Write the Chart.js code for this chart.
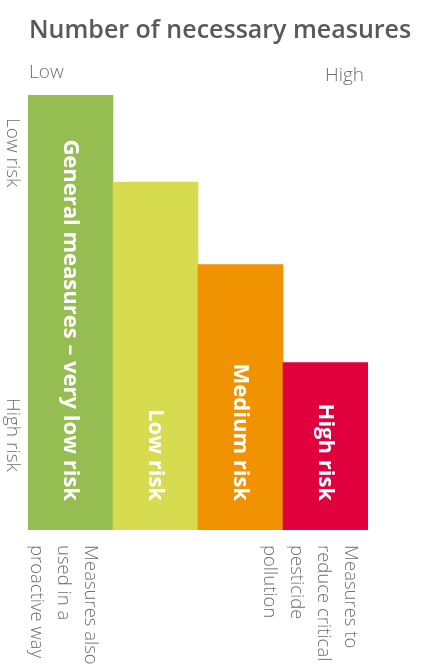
<!DOCTYPE html>
<html>
<head>
<meta charset="utf-8">
<script src="https://cdn.jsdelivr.net/npm/chart.js@4"></script>
<style>
  html, body { margin: 0; padding: 0; background: #fff; }
  #wrap { width: 421px; height: 669px; position: relative; }
</style>
</head>
<body>
<div id="wrap"><canvas id="riskChart"></canvas></div>
<script>
// data
const categories = ['General measures – very low risk', 'Low risk', 'Medium risk', 'High risk'];
const measureValues = [100, 80, 61, 38.5];
const barColors = ['#95bd52', '#d6db50', '#f19300', '#e1003d'];
const titleText = 'Number of necessary measures';
const xEndLabels = ['Low', 'High'];
const yEndLabels = ['Low risk', 'High risk'];
const bottomNotesLeft = ['Measures also', 'used in a', 'proactive way'];
const bottomNotesRight = ['Measures to', 'reduce critical', 'pesticide', 'pollution'];

const FONT = '"Open Sans", Lato, sans-serif';

function drawRotated(ctx, text, x, y, align) {
    ctx.save();
    ctx.translate(x, y);
    ctx.rotate(Math.PI / 2);
    ctx.textAlign = align;
    ctx.textBaseline = 'middle';
    ctx.fillText(text, 0, 0);
    ctx.restore();
}

const labelsPlugin = {
    id: 'riskLabels',
    afterDatasetsDraw(chart) {
        const ctx = chart.ctx;
        const area = chart.chartArea;
        const meta = chart.getDatasetMeta(0);
        const xs = chart.scales.x;

        ctx.save();
        // title
        ctx.fillStyle = '#58595b';
        ctx.font = '600 25px ' + FONT;
        ctx.textAlign = 'left';
        ctx.textBaseline = 'alphabetic';
        ctx.fillText(titleText, 29, 38);

        // Low / High
        ctx.fillStyle = '#6d6e70';
        ctx.font = '300 19px ' + FONT;
        ctx.fillText(xEndLabels[0], 29, 78);
        ctx.fillText(xEndLabels[1], 325, 81);

        // Low risk / High risk
        drawRotated(ctx, yEndLabels[0], 12, 118, 'left');
        drawRotated(ctx, yEndLabels[1], 12, 398, 'left');

        // labels inside bars
        ctx.fillStyle = '#ffffff';
        ctx.font = 'bold 22px ' + FONT;
        meta.data.forEach((bar, i) => {
            drawRotated(ctx, categories[i], bar.x, area.bottom - 29, 'right');
        });

        // notes under the bars
        ctx.fillStyle = '#6d6e70';
        ctx.font = '300 18.5px ' + FONT;
        const lh = 27;
        const leftX = xs.getPixelForValue(0) + 20;
        bottomNotesLeft.forEach((line, i) => {
            drawRotated(ctx, line, leftX - i * lh, area.bottom + 15, 'left');
        });
        const rightX = xs.getPixelForValue(3) + 25;
        bottomNotesRight.forEach((line, i) => {
            drawRotated(ctx, line, rightX - i * lh, area.bottom + 15, 'left');
        });
        ctx.restore();
    }
};

const ctx = document.getElementById('riskChart');
new Chart(ctx, {
    type: 'bar',
    data: {
        labels: categories,
        datasets: [{
            data: measureValues,
            backgroundColor: barColors,
            borderWidth: 0,
            barPercentage: 1,
            categoryPercentage: 1
        }]
    },
    options: {
        responsive: true,
        maintainAspectRatio: false,
        animation: false,
        layout: { padding: { left: 28, right: 53, top: 95, bottom: 139 } },
        plugins: {
            legend: { display: false },
            tooltip: { enabled: false }
        },
        scales: {
            x: { display: false },
            y: { display: false, min: 0, max: 100 }
        }
    },
    plugins: [labelsPlugin]
});
</script>
</body>
</html>
